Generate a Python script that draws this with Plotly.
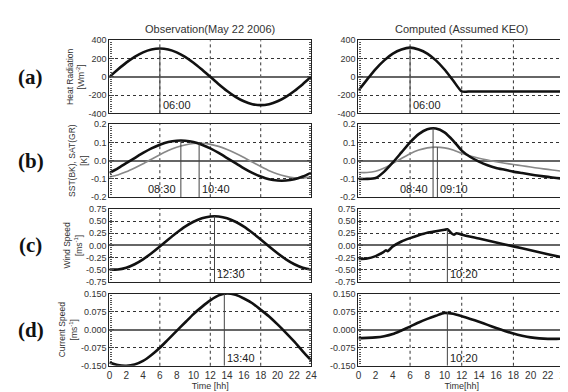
import plotly.graph_objects as go

# ---------------- data ----------------
hours = list(range(25))

# (a) Heat radiation [W m-2]
heat_obs = [0, 80, 155, 219, 268, 299, 310, 299, 268, 219, 155, 80, 0,
            -80, -155, -219, -268, -299, -310, -299, -268, -219, -155, -80, 0]
heat_cmp = [-150, -30, 85, 180, 255, 300, 320, 300, 255, 180, 80, -40, -160,
            -160, -160, -160, -160, -160, -160, -160, -160, -160, -160, -160, -160]

# (b) SST (black) and SAT (grey) [K]
sst_obs = [-0.067, -0.042, -0.014, 0.014, 0.042, 0.067, 0.087, 0.102, 0.109, 0.109,
           0.102, 0.087, 0.067, 0.042, 0.014, -0.014, -0.042, -0.067, -0.087, -0.102,
           -0.109, -0.109, -0.102, -0.087, -0.067]
sat_obs = [-0.089, -0.078, -0.061, -0.040, -0.017, 0.008, 0.032, 0.055, 0.073, 0.086,
           0.094, 0.095, 0.089, 0.078, 0.061, 0.040, 0.017, -0.008, -0.032, -0.055,
           -0.073, -0.086, -0.094, -0.095, -0.089]
sst_cmp = [-0.100, -0.100, -0.095, -0.060, -0.010, 0.045, 0.100, 0.145, 0.172, 0.176,
           0.155, 0.110, 0.055, 0.020, -0.005, -0.025, -0.040, -0.050, -0.060, -0.068,
           -0.076, -0.083, -0.089, -0.095, -0.100]
sat_cmp = [-0.065, -0.065, -0.058, -0.040, -0.015, 0.012, 0.038, 0.058, 0.070, 0.074,
           0.070, 0.058, 0.040, 0.025, 0.013, 0.003, -0.006, -0.014, -0.021, -0.028,
           -0.035, -0.042, -0.048, -0.054, -0.060]

# (c) Wind speed [m s-1]
wind_obs = [-0.495, -0.495, -0.458, -0.386, -0.285, -0.160, -0.022, 0.122, 0.260, 0.385,
            0.486, 0.558, 0.595, 0.595, 0.558, 0.486, 0.385, 0.260, 0.122, -0.022,
            -0.160, -0.285, -0.386, -0.458, -0.495]
wind_cmp_t = [0, 1, 2, 2.8, 3.2, 3.4, 3.7, 4, 5, 6, 7, 8, 9, 10, 10.33, 10.8, 11.1,
              11.4, 12, 14, 16, 18, 20, 22, 24]
wind_cmp = [-0.28, -0.27, -0.22, -0.15, -0.10, -0.12, -0.07, -0.02, 0.08, 0.15, 0.21,
            0.26, 0.29, 0.32, 0.33, 0.25, 0.22, 0.25, 0.22, 0.14, 0.06, -0.02, -0.10,
            -0.18, -0.26]

# (d) Current speed [m s-1]
curr_obs = [-0.136, -0.147, -0.150, -0.145, -0.130, -0.105, -0.075, -0.040, -0.005,
            0.030, 0.065, 0.095, 0.122, 0.143, 0.151, 0.145, 0.130, 0.110, 0.083, 0.055,
            0.022, -0.013, -0.050, -0.090, -0.128]
curr_cmp = [-0.035, -0.034, -0.032, -0.027, -0.018, -0.003, 0.013, 0.030, 0.045, 0.058,
            0.070, 0.066, 0.056, 0.045, 0.033, 0.020, 0.007, -0.005, -0.016, -0.025,
            -0.032, -0.036, -0.038, -0.038, -0.037]

# peak markers: (hour, value at top of marker line, label, label side)
marks_obs = [[(6.0, 310, "06:00", "r")],
             [(8.5, 0.109, "08:30", "l"), (10.67, 0.095, "10:40", "r")],
             [(12.5, 0.60, "12:30", "r")],
             [(13.67, 0.151, "13:40", "r")]]
marks_cmp = [[(6.0, 320, "06:00", "r")],
             [(8.67, 0.178, "08:40", "l"), (9.17, 0.074, "09:10", "r")],
             [(10.33, 0.33, "10:20", "r")],
             [(10.33, 0.073, "10:20", "r")]]

# axis ticks
y_ticks = [[-400, -200, 0, 200, 400],
           [-0.2, -0.1, 0.0, 0.1, 0.2],
           [-0.75, -0.5, -0.25, 0.0, 0.25, 0.5, 0.75],
           [-0.15, -0.075, 0.0, 0.075, 0.15]]
y_ticktext = [["-400", "-200", "0", "200", "400"],
              ["-0.2", "-0.1", "0.0", "0.1", "0.2"],
              ["-0.75", "-0.50", "-0.25", "0.00", "0.25", "0.50", "0.75"],
              ["-0.150", "-0.075", "0.000", "0.075", "0.150"]]
y_titles = ["Heat Radiation<br>[Wm<sup>-2</sup>]",
            "SST(BK), SAT(GR)<br>[K]",
            "Wind Speed<br>[ms<sup>-1</sup>]",
            "Current Speed<br>[ms<sup>-1</sup>]"]
panel_tags = ["(a)", "(b)", "(c)", "(d)"]
x_ticks = list(range(0, 25, 2))
grid_hours = [6, 12, 18]
col_titles = ["Observation(May 22 2006)", "Computed (Assumed KEO)"]
x_titles = ["Time [hh]", "Time[hh]"]

# ---------------- layout geometry ----------------
W, H = 568, 392
col_px = [(100, 305), (353, 563)]
row_px = [(28, 103), (114, 189), (201, 276), (288, 362)]

FONT = "Liberation Sans, Arial, sans-serif"
fig = go.Figure()

series = [
    [(hours, heat_obs, "k")], [(hours, heat_cmp, "k")],
    [(hours, sat_obs, "g"), (hours, sst_obs, "k")], [(hours, sat_cmp, "g"), (hours, sst_cmp, "k")],
    [(hours, wind_obs, "k")], [(wind_cmp_t, wind_cmp, "k")],
    [(hours, curr_obs, "k")], [(hours, curr_cmp, "k")],
]

annotations = []
shapes = []
for r in range(4):
    for c in range(2):
        n = r * 2 + c + 1
        xa = "x" if n == 1 else f"x{n}"
        ya = "y" if n == 1 else f"y{n}"
        x0, x1 = col_px[c]
        t0, t1 = row_px[r]
        ymin, ymax = y_ticks[r][0], y_ticks[r][-1]
        xax = dict(
            domain=[x0 / W, x1 / W], anchor=ya, range=[0, 24],
            tickvals=x_ticks, ticktext=[str(v) for v in x_ticks],
            showticklabels=(r == 3), showgrid=False, zeroline=False,
            showline=True, mirror=True, linecolor="#222", linewidth=1.2,
            ticks="", tickfont=dict(family=FONT, size=10, color="#333"),
        )
        if r == 3:
            xax["title"] = dict(text=x_titles[c], font=dict(family=FONT, size=9, color="#333"),
                                standoff=2)
        fig.layout[f"xaxis{'' if n == 1 else n}"] = xax
        minor = dict(ticks="inside", ticklen=2, tickcolor="#555",
                     dtick=(ymax - ymin) / 32, showgrid=False)
        yax = dict(
            domain=[1 - t1 / H, 1 - t0 / H], anchor=xa, range=[ymin, ymax],
            tickvals=y_ticks[r], ticktext=y_ticktext[r],
            showgrid=True, gridcolor="#333", griddash="dot", gridwidth=1,
            zeroline=True, zerolinecolor="#666", zerolinewidth=1.5,
            showline=True, mirror=True, linecolor="#222", linewidth=1.2,
            ticks="inside", ticklen=4, tickcolor="#444", minor=minor,
            tickfont=dict(family=FONT, size=9, color="#333"),
        )
        if c == 0:
            yax["title"] = dict(text=y_titles[r], font=dict(family=FONT, size=8.5, color="#333"),
                                standoff=2)
        fig.layout[f"yaxis{'' if n == 1 else n}"] = yax
        # right-hand duplicate axis carrying the inner tick marks on the right border
        fig.layout[f"yaxis{n + 8}"] = dict(
            overlaying=ya, side="right", anchor=xa, range=[ymin, ymax],
            tickvals=y_ticks[r], showticklabels=False, showgrid=False, zeroline=False,
            showline=False, ticks="inside", ticklen=4, tickcolor="#444", minor=minor,
        )
        fig.add_trace(go.Scatter(x=[None], y=[None], xaxis=xa, yaxis=f"y{n + 8}",
                                 showlegend=False, hoverinfo="skip"))
        # vertical dotted grid at 6, 12, 18 h
        for g in grid_hours:
            shapes.append(dict(type="line", xref=xa, yref=f"{ya} domain", x0=g, x1=g, y0=0, y1=1,
                               line=dict(color="#333", width=1, dash="dot"), layer="below"))
        # curves
        for xs, ys, kind in series[n - 1]:
            if kind == "k":
                ln = dict(color="#111", width=2.6, shape="spline", smoothing=0.6)
            else:
                ln = dict(color="#888", width=1.6, shape="spline", smoothing=0.6)
            fig.add_trace(go.Scatter(x=xs, y=ys, mode="lines", line=ln, xaxis=xa, yaxis=ya,
                                     showlegend=False, hoverinfo="skip"))
        # peak marker lines and time labels
        marks = (marks_obs if c == 0 else marks_cmp)[r]
        for (tm, top, lab, side) in marks:
            fig.add_trace(go.Scatter(x=[tm, tm], y=[ymin, top], mode="lines",
                                     line=dict(color="#444", width=1), xaxis=xa, yaxis=ya,
                                     showlegend=False, hoverinfo="skip"))
            annotations.append(dict(x=tm, y=ymin, xref=xa, yref=ya, text=lab, showarrow=False,
                                    xanchor="left" if side == "r" else "right",
                                    yanchor="bottom", xshift=1 if side == "r" else -3, yshift=0,
                                    font=dict(family=FONT, size=11, color="#222")))
    # panel tag
    t0, t1 = row_px[r]
    annotations.append(dict(x=20 / W, y=1 - (t0 + t1) / 2 / H, xref="paper", yref="paper",
                            xanchor="center", yanchor="middle",
                            text=f"<b>{panel_tags[r]}</b>", showarrow=False,
                            font=dict(family="Liberation Serif, Times New Roman, serif", size=21, color="#111")))

for c in range(2):
    x0, x1 = col_px[c]
    annotations.append(dict(x=(x0 + x1) / 2 / W, y=1 - 16 / H, xref="paper", yref="paper",
                            xanchor="center", yanchor="middle",
                            text=col_titles[c], showarrow=False,
                            font=dict(family=FONT, size=11, color="#333")))

fig.update_layout(width=W, height=H, margin=dict(l=0, r=0, t=0, b=0),
                  paper_bgcolor="white", plot_bgcolor="white",
                  annotations=annotations, shapes=shapes)

fig.write_html("out.html")
